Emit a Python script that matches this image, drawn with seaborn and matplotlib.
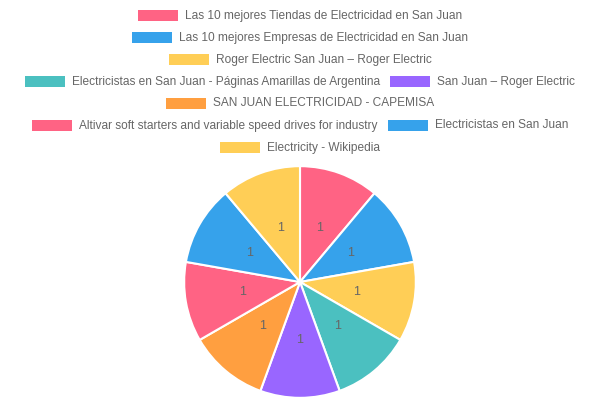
import matplotlib
matplotlib.use("Agg")
import matplotlib.pyplot as plt
import matplotlib.patches as mpatches
import seaborn as sns

labels = [
    "Las 10 mejores Tiendas de Electricidad en San Juan",
    "Las 10 mejores Empresas de Electricidad en San Juan",
    "Roger Electric San Juan \u2013 Roger Electric",
    "Electricistas en San Juan - P\u00e1ginas Amarillas de Argentina",
    "San Juan \u2013 Roger Electric",
    "SAN JUAN ELECTRICIDAD - CAPEMISA",
    "Altivar soft starters and variable speed drives for industry",
    "Electricistas en San Juan",
    "Electricity - Wikipedia",
]
values = [1, 1, 1, 1, 1, 1, 1, 1, 1]
colors = ["#FF6384", "#36A2EB", "#FFCE56", "#4BC0C0", "#9966FF",
          "#FF9F40", "#FF6384", "#36A2EB", "#FFCE56"]
# legend rows as laid out in the chart
legend_rows = [[0], [1], [2], [3, 4], [5], [6, 7], [8]]

sns.set_theme(style="white")
plt.rcParams['font.family'] = ['Liberation Sans', 'DejaVu Sans']
palette = sns.color_palette(colors)

W, H = 600, 400
fig = plt.figure(figsize=(6, 4), dpi=100)

# pie area (pixels: center 300,282 radius 117)
cx, cy, r = 300, 282, 117
ax = fig.add_axes([(cx - r) / W, (H - cy - r) / H, 2 * r / W, 2 * r / H])
total = sum(values)
ax.pie(values, colors=palette, startangle=90, counterclock=False,
       autopct=lambda p: f"{p * total / 100:.0f}", pctdistance=0.5,
       wedgeprops=dict(edgecolor="white", linewidth=1.5),
       textprops=dict(color="#666666", fontsize=9))
ax.set_xlim(-1.01, 1.01)
ax.set_ylim(-1.01, 1.01)
ax.axis("off")

# legend drawn by hand, centered rows
renderer = fig.canvas.get_renderer()
fs = 8.6
box_w, box_h, gap, pad = 40, 11, 7, 10
row_y0, row_step = 15.5, 22
for ri, row in enumerate(legend_rows):
    y = row_y0 + ri * row_step
    widths = []
    for i in row:
        t = fig.text(0, 0, labels[i], fontsize=fs)
        widths.append(t.get_window_extent(renderer).width)
        t.remove()
    row_w = sum(box_w + gap + w for w in widths) + pad * (len(row) - 1)
    x = W / 2 - row_w / 2
    for i, w in zip(row, widths):
        fig.patches.append(mpatches.Rectangle(
            (x / W, (H - y - box_h / 2) / H), box_w / W, box_h / H,
            transform=fig.transFigure, facecolor=palette[i], edgecolor="none"))
        fig.text((x + box_w + gap) / W, (H - y) / H, labels[i], fontsize=fs,
                 color="#666666", va="center", ha="left")
        x += box_w + gap + w + pad

fig.savefig("out.png", dpi=100)
